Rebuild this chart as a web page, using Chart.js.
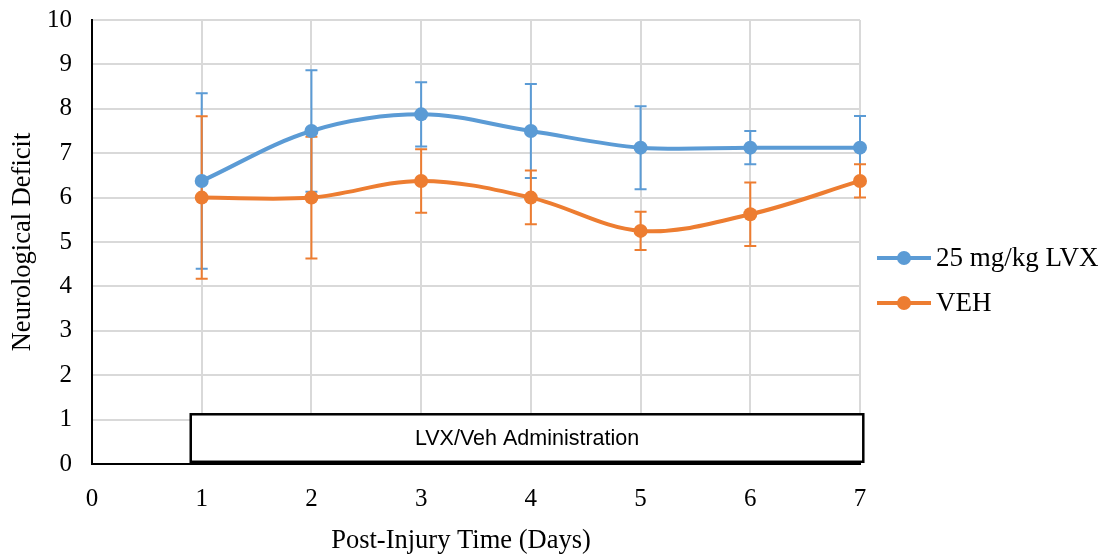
<!DOCTYPE html>
<html>
<head>
<meta charset="utf-8">
<script src="https://cdn.jsdelivr.net/npm/chart.js@4"></script>
<style>
  html, body { margin: 0; padding: 0; background: #fff; }
  #wrap { width: 1102px; height: 556px; }
</style>
</head>
<body>
<div id="wrap"><canvas id="chart" width="1102" height="556"></canvas></div>
<script>
// data
const days = [1, 2, 3, 4, 5, 6, 7];
const lvxMean  = [6.375, 7.5, 7.875, 7.5, 7.125, 7.125, 7.125];
const lvxUpper = [8.35, 8.87, 8.6, 8.56, 8.06, 7.5, 7.84];
const lvxLower = [4.4, 6.13, 7.15, 6.44, 6.19, 6.75, 6.41];
const vehMean  = [6.0, 6.0, 6.375, 6.0, 5.25, 5.625, 6.375];
const vehUpper = [7.83, 7.37, 7.09, 6.61, 5.68, 6.34, 6.75];
const vehLower = [4.17, 4.63, 5.66, 5.4, 4.82, 4.91, 6.0];
const seriesNames = ['25 mg/kg LVX', 'VEH'];
const xTicks = [0, 1, 2, 3, 4, 5, 6, 7];
const yTicks = [0, 1, 2, 3, 4, 5, 6, 7, 8, 9, 10];
// administration box (x from/to, y from/to)
const adminLabel = 'LVX/Veh Administration';
const adminX = [0.9, 7.03];
const adminY = [0.05, 1.12];

const BLUE = '#5b9bd5';
const ORANGE = '#ed7d31';
const SERIF = '"Liberation Serif", "Times New Roman", serif';

const toPts = arr => days.map((d, i) => ({ x: d, y: arr[i] }));

// Error bars, drawn under the lines/markers
const errorBars = {
    id: 'errorBars',
    beforeDatasetsDraw(chart) {
        const { ctx, scales: { x, y } } = chart;
        const sets = [[lvxUpper, lvxLower, BLUE], [vehUpper, vehLower, ORANGE]];
        ctx.save();
        ctx.lineWidth = 2;
        sets.forEach(([up, lo, col]) => {
            ctx.strokeStyle = col;
            days.forEach((d, i) => {
                const px = x.getPixelForValue(d);
                const yt = y.getPixelForValue(up[i]);
                const yb = y.getPixelForValue(lo[i]);
                ctx.beginPath();
                ctx.moveTo(px, yt); ctx.lineTo(px, yb);
                ctx.moveTo(px - 6, yt); ctx.lineTo(px + 6, yt);
                ctx.moveTo(px - 6, yb); ctx.lineTo(px + 6, yb);
                ctx.stroke();
            });
        });
        ctx.restore();
    }
};

// Box label, x title + legend
const extras = {
    id: 'extras',
    afterDraw(chart) {
        const { ctx, scales: { x, y } } = chart;
        ctx.save();
        const x0 = x.getPixelForValue(adminX[0]), x1 = x.getPixelForValue(adminX[1]);
        const y0 = y.getPixelForValue(adminY[1]), y1 = y.getPixelForValue(adminY[0]);
        ctx.fillStyle = '#fff';
        ctx.fillRect(x0, y0, x1 - x0, y1 - y0);
        ctx.strokeStyle = '#000';
        ctx.lineWidth = 2.5;
        ctx.strokeRect(x0, y0, x1 - x0, y1 - y0);
        ctx.fillStyle = '#000';
        ctx.font = '21.5px "Liberation Sans", Arial, sans-serif';
        ctx.textAlign = 'center';
        ctx.textBaseline = 'middle';
        ctx.fillText(adminLabel, (x0 + x1) / 2, (y0 + y1) / 2 + 1);

        // x axis title (sits a little left of the plot centre in the original)
        ctx.font = '26.5px ' + SERIF;
        ctx.fillText('Post-Injury Time (Days)', 461, 541);

        // legend
        const cols = [BLUE, ORANGE];
        const rows = [258, 303];
        ctx.textAlign = 'left';
        ctx.font = '27px ' + SERIF;
        seriesNames.forEach((name, i) => {
            const ly = rows[i];
            ctx.strokeStyle = cols[i];
            ctx.lineWidth = 4;
            ctx.beginPath();
            ctx.moveTo(877, ly); ctx.lineTo(931, ly);
            ctx.stroke();
            ctx.fillStyle = cols[i];
            ctx.beginPath();
            ctx.arc(904, ly, 7, 0, Math.PI * 2);
            ctx.fill();
            ctx.fillStyle = '#000';
            ctx.fillText(name, 936, ly + 1);
        });
        ctx.restore();
    }
};

new Chart(document.getElementById('chart'), {
    type: 'line',
    data: {
        datasets: [
            { label: seriesNames[0], data: toPts(lvxMean), borderColor: BLUE, backgroundColor: BLUE,
              borderWidth: 4, pointRadius: 7, pointBorderWidth: 0, tension: 0.35, clip: false },
            { label: seriesNames[1], data: toPts(vehMean), borderColor: ORANGE, backgroundColor: ORANGE,
              borderWidth: 4, pointRadius: 7, pointBorderWidth: 0, tension: 0.35, clip: false }
        ]
    },
    options: {
        responsive: false,
        animation: false,
        events: [],
        layout: { padding: { top: 20, right: 242, left: 0, bottom: 0 } },
        plugins: { legend: { display: false }, tooltip: { enabled: false } },
        scales: {
            x: {
                type: 'linear', min: 0, max: 7,
                afterBuildTicks: s => { s.ticks = xTicks.map(v => ({ value: v })); },
                afterFit: s => { s.height = 92; s.paddingLeft = 0; s.paddingRight = 0; },
                grid: { color: '#d9d9d9', lineWidth: 2, drawTicks: false },
                border: { color: '#000', width: 2 },
                ticks: { color: '#000', font: { family: SERIF, size: 25 }, padding: 20 }
            },
            y: {
                min: 0, max: 10,
                afterBuildTicks: s => { s.ticks = yTicks.map(v => ({ value: v })); },
                afterFit: s => { s.width = 92; s.paddingTop = 0; s.paddingBottom = 0; },
                grid: { color: '#d9d9d9', lineWidth: 2, drawTicks: false },
                border: { color: '#000', width: 2 },
                ticks: { color: '#000', font: { family: SERIF, size: 25 }, padding: 20 },
                title: { display: true, text: 'Neurological Deficit', color: '#000',
                         font: { family: SERIF, size: 26.5 }, padding: { top: 7, bottom: 0 } }
            }
        }
    },
    plugins: [errorBars, extras]
});
</script>
</body>
</html>
